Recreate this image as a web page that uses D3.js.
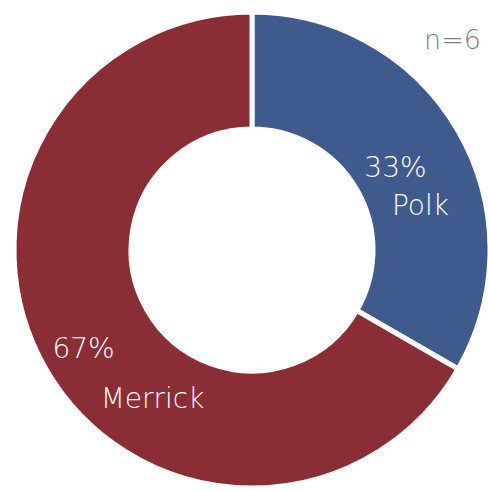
<!DOCTYPE html>
<html>
<head>
<meta charset="utf-8">
<script src="https://cdn.jsdelivr.net/npm/d3@7"></script>
<style>
  body { margin: 0; background: #fff; }
  text { font-family: "DejaVu Sans", sans-serif; font-weight: 200; }
</style>
</head>
<body>
<div id="chart"></div>
<script>
var width = 488,
    height = 491;

// data
var categories = ["Polk", "Merrick"];
var values = [2, 4];
var colors = ["#3F5A8D", "#8A2D34"];
var sampleLabel = "n=6";

var cx = 252, cy = 250,
    outerR = 238, innerR = 121;

var svg = d3.select("#chart")
    .append("svg")
    .attr("width", width)
    .attr("height", height)
    .append("g")
    .attr("transform", "translate(" + cx + "," + cy + ")");

var total = d3.sum(values);
var pct = d3.format(".0%");

var pie = d3.pie().sort(null).value(function (d) { return d; });
var arc = d3.arc().innerRadius(innerR).outerRadius(outerR);

var arcs = pie(values);

svg.selectAll("path")
    .data(arcs)
    .enter().append("path")
    .attr("d", arc)
    .attr("fill", function (d, i) { return colors[i]; })
    .attr("stroke", "#fff")
    .attr("stroke-width", 5)
    .attr("stroke-linejoin", "miter");

// label offsets from the slice centroid (percentage line, name line)
var labelShift = [
    { p: [-12, 17], n: [13, 55] },
    { p: [-13, 18], n: [56, 68] }
];

var labels = svg.selectAll("g.lbl")
    .data(arcs)
    .enter().append("g")
    .attr("class", "lbl")
    .attr("transform", function (d) {
        return "translate(" + arc.centroid(d) + ")";
    });

labels.append("text")
    .attr("text-anchor", "middle")
    .attr("x", function (d, i) { return labelShift[i].p[0]; })
    .attr("y", function (d, i) { return labelShift[i].p[1]; })
    .attr("fill", "#fff")
    .style("font-size", "28px")
    .text(function (d) { return pct(d.value / total); });

labels.append("text")
    .attr("text-anchor", "middle")
    .attr("x", function (d, i) { return labelShift[i].n[0]; })
    .attr("y", function (d, i) { return labelShift[i].n[1]; })
    .attr("fill", "#fff")
    .style("font-size", "28px")
    .text(function (d, i) { return categories[i]; });

// sample size
d3.select("svg").append("text")
    .attr("x", 481)
    .attr("y", 49)
    .attr("text-anchor", "end")
    .attr("fill", "#7F7F7F")
    .style("font-size", "27px")
    .text(sampleLabel);
</script>
</body>
</html>
